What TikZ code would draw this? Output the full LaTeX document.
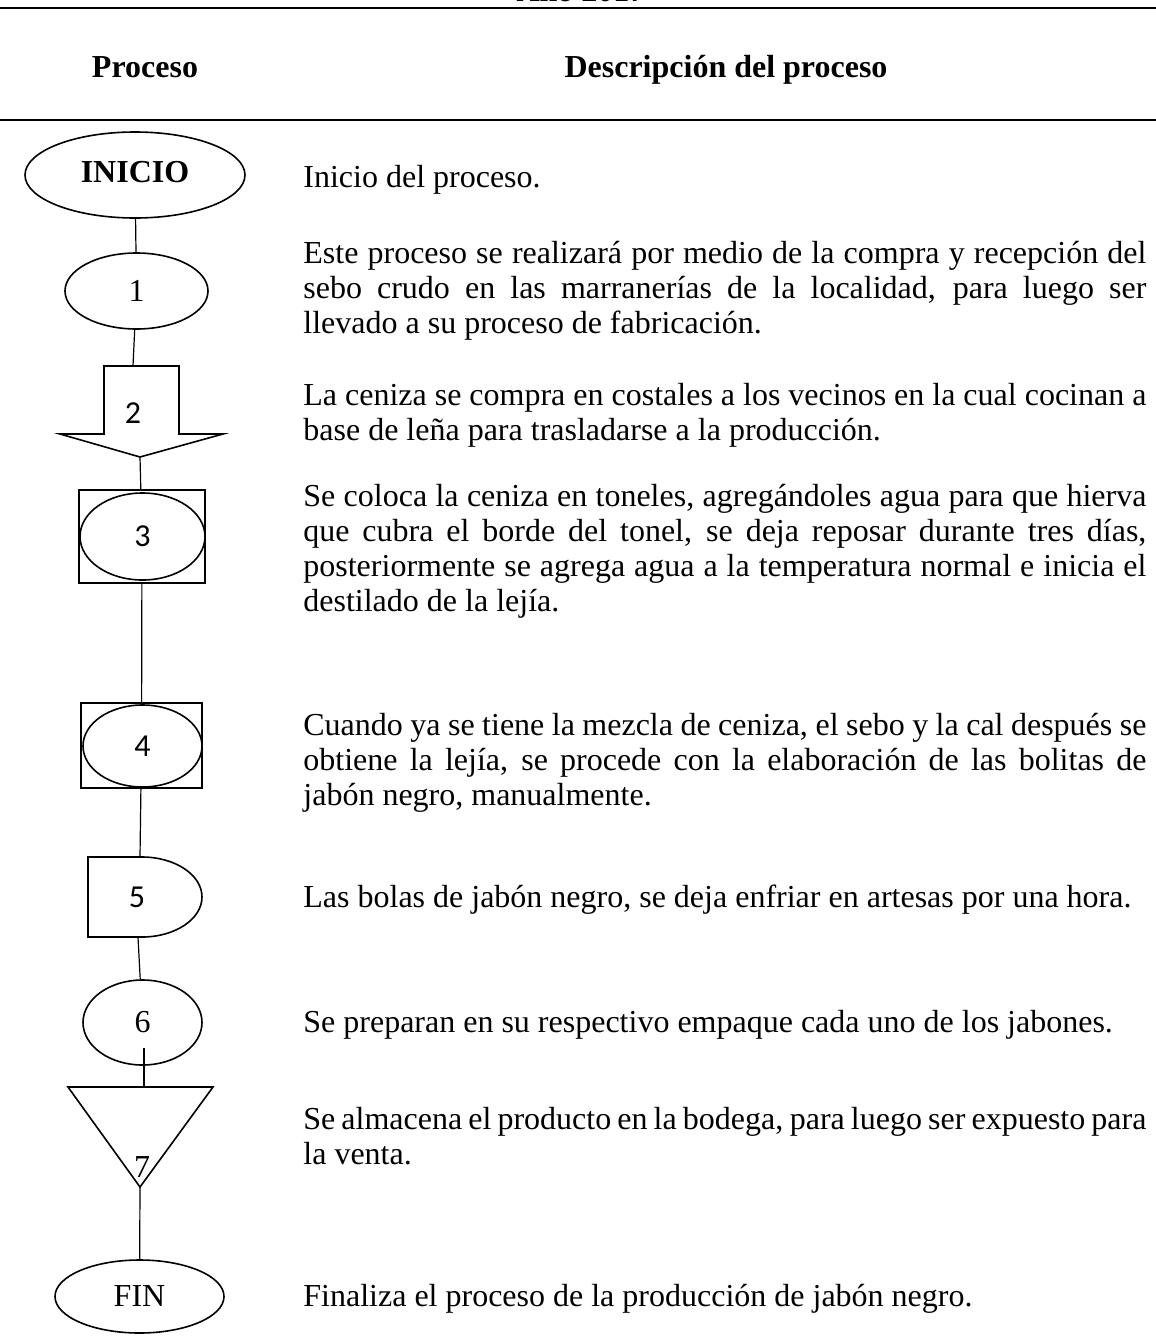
\documentclass[tikz,border=0pt]{standalone}
\usepackage{fontspec}
\setmainfont{Liberation Serif}
\newfontfamily\calibri{Carlito}
\usetikzlibrary{shapes.geometric}

\tikzset{
    forma/.style={draw, line width=0.8pt},
    elipse/.style={forma, ellipse, inner sep=0pt},
    caja/.style={forma, rectangle, inner sep=0pt},
    enlace/.style={line width=0.6pt},
    texto/.style={anchor=base west, inner sep=0pt, text width=421.5pt,
        align=justify, font=\fontsize{16}{17.5}\selectfont},
    cabeza/.style={anchor=base, inner sep=0pt, font=\fontsize{16}{16}\selectfont\bfseries},
    num/.style={font=\fontsize{16}{16}\selectfont}
}

\begin{document}
\begin{tikzpicture}[x=0.5pt,y=-0.5pt]
    \useasboundingbox (0,0) rectangle (1156,1339);

    % Header of the table
    \node[cabeza] (anio) at (581,1) {Año 2017};
    \draw[line width=1pt] (0,8) -- (1156,8);
    \node[cabeza] (hproc) at (145,77) {Proceso};
    \node[cabeza] (hdesc) at (726,77) {Descripción del proceso};
    \draw[line width=0.8pt] (0,120) -- (1156,120);

    % Symbols
    \node[elipse, minimum width=110pt, minimum height=43pt, font=\fontsize{16}{16}\selectfont\bfseries] (ini) at (135,175) {\raisebox{3pt}{INICIO}};
    \node[elipse, num, minimum width=71.5pt, minimum height=38pt] (p1) at (136.5,291) {1};

    \draw[forma] (104,366) -- (179,366) -- (179,434) -- (223,434) -- (140,457)
        -- (60,434) -- (104,434) -- cycle;
    \node[num] (p2) at (133,413) {\calibri 2};
    \coordinate (p2top) at (133,366);
    \coordinate (p2tip) at (140,457);

    \node[caja, minimum width=63pt, minimum height=46.5pt] (c3) at (142,536.5) {};
    \node[elipse, num, minimum width=62.5pt, minimum height=43.5pt] (p3) at (142.5,536.5) {\calibri 3};

    \node[caja, minimum width=60.5pt, minimum height=42.5pt] (c4) at (141.5,745.5) {};
    \node[elipse, num, minimum width=59.5pt, minimum height=41pt] (p4) at (142.5,746) {\calibri 4};

    \draw[forma] (88,857) -- (142,857) arc[start angle=-90, end angle=90, x radius=60, y radius=40]
        -- (88,937) -- cycle;
    \node[num] (p5) at (137,897) {\calibri 5};
    \coordinate (p5top) at (140,857);
    \coordinate (p5bot) at (138,937);

    \node[elipse, num, minimum width=59.5pt, minimum height=42.5pt] (p6) at (142.5,1022.5) {6};
    \coordinate (p6in) at (144,1048);

    \draw[forma] (68,1087) -- (213,1087) -- (140,1187) -- cycle;
    \node[num] (p7) at (142,1167) {7};
    \coordinate (p7top) at (144,1087);
    \coordinate (p7tip) at (140,1187);

    \node[elipse, num, minimum width=84.5pt, minimum height=36.5pt] (fin) at (139.5,1296.5) {FIN};

    % Connectors
    \foreach \a/\b in {ini/p1, p1/p2top, p2tip/c3, c3/c4, c4/p5top, p5bot/p6, p6in/p7top, p7tip/fin}
        \draw[enlace] (\a) -- (\b);

    % Descriptions
    \foreach \y/\t [count=\i] in {
        187/{Inicio del proceso.},
        263/{Este proceso se realizará por medio de la compra y recepción del\linebreak
            sebo crudo en las marranerías de la localidad, para luego ser\linebreak
            llevado a su proceso de fabricación.},
        405/{La ceniza se compra en costales a los vecinos en la cual cocinan a\linebreak
            base de leña para trasladarse a la producción.},
        506/{Se coloca la ceniza en toneles, agregándoles agua para que hierva\linebreak
            que cubra el borde del tonel, se deja reposar durante tres días,\linebreak
            posteriormente se agrega agua a la temperatura normal e inicia el\linebreak
            destilado de la lejía.},
        735/{Cuando ya se tiene la mezcla de ceniza, el sebo y la cal después se\linebreak
            obtiene la lejía, se procede con la elaboración de las bolitas de\linebreak
            jabón negro, manualmente.},
        907/{Las bolas de jabón negro, se deja enfriar en artesas por una hora.},
        1032/{Se preparan en su respectivo empaque cada uno de los jabones.},
        1129/{Se almacena el producto en la bodega, para luego ser expuesto para\linebreak
            la venta.},
        1306/{Finaliza el proceso de la producción de jabón negro.}}
        \node[texto] (d\i) at (303,\y) {\t};
\end{tikzpicture}
\end{document}
